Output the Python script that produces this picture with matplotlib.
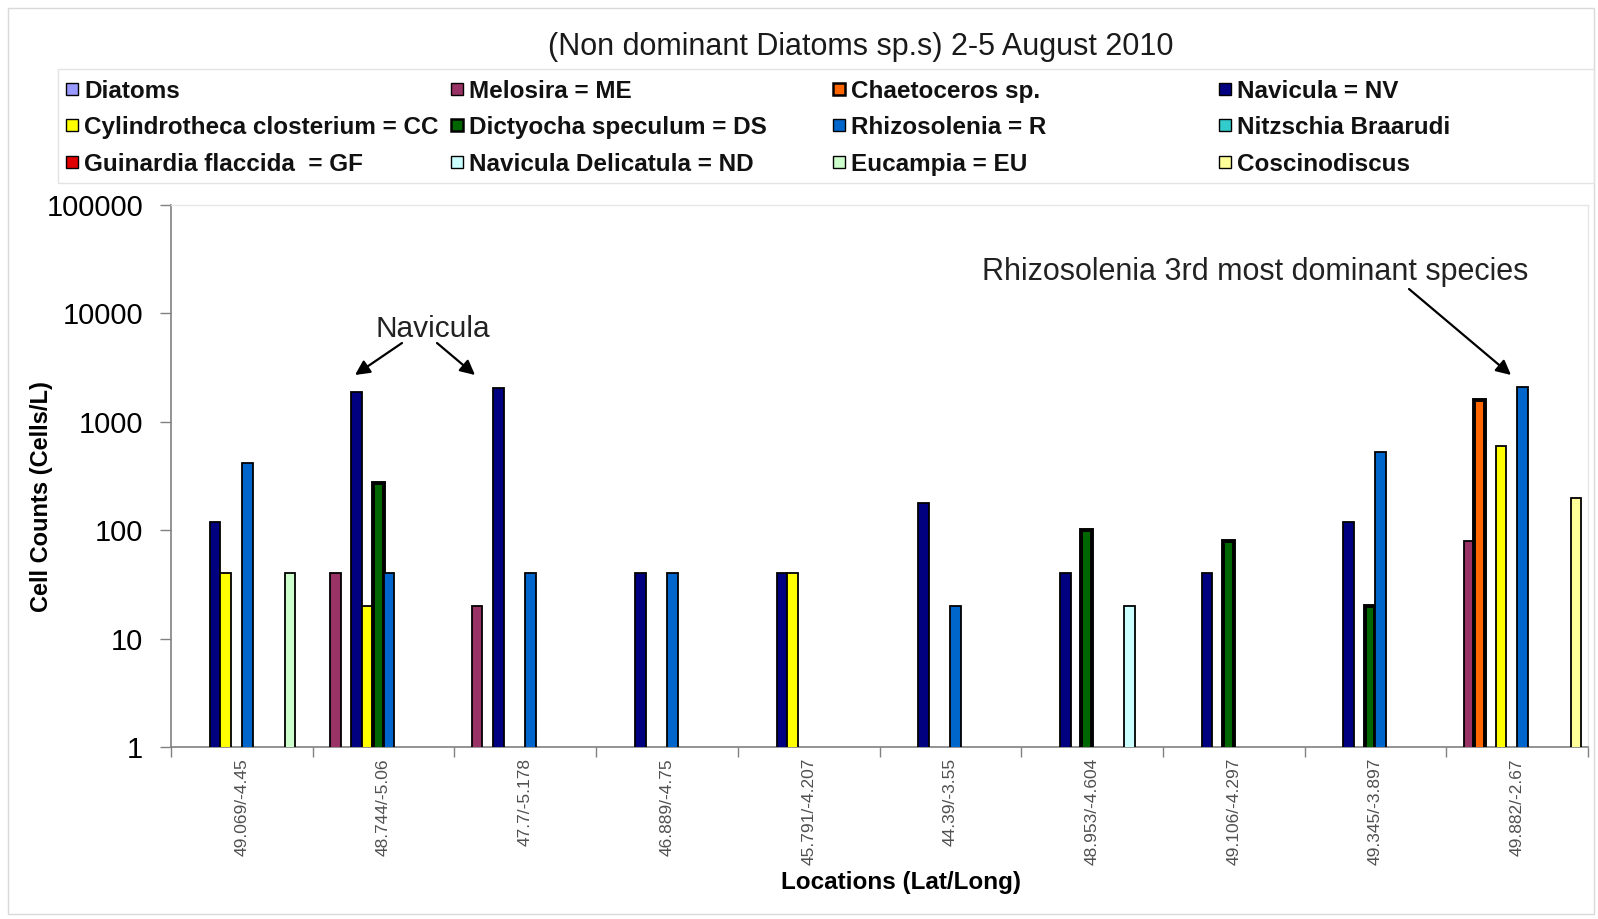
import numpy as np
import matplotlib
matplotlib.use('Agg')
import matplotlib.pyplot as plt
from matplotlib.patches import Rectangle

# ---------------- data ----------------
locations = ['49.069/-4.45', '48.744/-5.06', '47.7/-5.178', '46.889/-4.75', '45.791/-4.207',
             '44.39/-3.55', '48.953/-4.604', '49.106/-4.297', '49.345/-3.897', '49.882/-2.67']

series_names = ['Diatoms', 'Melosira = ME', 'Chaetoceros sp.', 'Navicula = NV',
                'Cylindrotheca closterium = CC', 'Dictyocha speculum = DS', 'Rhizosolenia = R',
                'Nitzschia Braarudi',
                'Guinardia flaccida  = GF', 'Navicula Delicatula = ND', 'Eucampia = EU', 'Coscinodiscus']

N = np.nan
diatoms       = [N, N, N, N, N, N, N, N, N, N]
melosira      = [N, 40, 20, N, N, N, N, N, N, 80]
chaetoceros   = [N, N, N, N, N, N, N, N, N, 1600]
navicula      = [120, 1900, 2040, 40, 40, 180, 40, 40, 120, N]
cylindrotheca = [40, 20, N, N, 40, N, N, N, N, 600]
dictyocha     = [N, 270, N, N, N, N, 100, 80, 20, N]
rhizosolenia  = [420, 40, 40, 40, N, 20, N, N, 530, 2100]
nitzschia     = [N, N, N, N, N, N, N, N, N, N]
guinardia     = [N, N, N, N, N, N, N, N, N, N]
nav_delicat   = [N, N, N, N, N, N, 20, N, N, N]
eucampia      = [40, N, N, N, N, N, N, N, N, N]
coscinodiscus = [N, N, N, N, N, N, N, N, N, 200]

yticks = [1, 10, 100, 1000, 10000, 100000]
ytick_labels = ['1', '10', '100', '1000', '10000', '100000']

series_values = [diatoms, melosira, chaetoceros, navicula, cylindrotheca, dictyocha,
                 rhizosolenia, nitzschia, guinardia, nav_delicat, eucampia, coscinodiscus]
colors = ['#9999FF', '#993366', '#FF6600', '#000080', '#FFFF00', '#006600',
          '#0066CC', '#33CCCC', '#E00000', '#CCFFFF', '#CCFFCC', '#FFFF99']
edge_w = [1.3, 1.3, 2.8, 1.3, 1.3, 2.8, 1.3, 1.3, 1.3, 1.3, 1.3, 1.3]

# ---------------- figure ----------------
W, H = 1598, 919
plt.rcParams['font.family'] = ['Liberation Sans', 'DejaVu Sans']
fig = plt.figure(figsize=(W / 100, H / 100), dpi=100)
fig.patch.set_facecolor('white')

def fx(px):
    return px / W

def fy(py):
    return 1 - py / H

ax = fig.add_axes([fx(171), fy(747), fx(1588) - fx(171), fy(205) - fy(747)])

n_series = len(series_values)
x = np.arange(len(locations))
bw = 0.0755
for k, (vals, col, lw) in enumerate(zip(series_values, colors, edge_w)):
    ax.bar(x + (k - (n_series - 1) / 2) * bw, np.array(vals, dtype=float), width=bw,
           color=col, edgecolor='black', linewidth=lw, zorder=3)

ax.set_yscale('log')
ax.set_ylim(1, 100000)
ax.set_xlim(-0.5, len(locations) - 0.5)
ax.set_yticks(yticks)
ax.set_yticklabels(ytick_labels)
ax.yaxis.set_minor_locator(matplotlib.ticker.NullLocator())
ax.tick_params(axis='y', which='major', length=8, width=1.0, color='#808080',
               labelsize=21, pad=12, direction='out')

ax.set_xticks(np.arange(-0.5, len(locations), 1.0))
ax.set_xticklabels([])
ax.set_xticks(x, minor=True)
ax.set_xticklabels(locations, minor=True, rotation=90, fontsize=12.5, color='#505050')
ax.tick_params(axis='x', which='major', length=7, width=1.0, color='#808080', direction='out')
ax.tick_params(axis='x', which='minor', length=0, pad=8)
for lab in ax.get_xticklabels(minor=True):
    lab.set_verticalalignment('top')

for s in ['left', 'bottom']:
    ax.spines[s].set_color('#808080')
    ax.spines[s].set_linewidth(1.2)
for s in ['top', 'right']:
    ax.spines[s].set_color('#e6e6e6')
    ax.spines[s].set_linewidth(1.0)

ax.set_ylabel('Cell Counts (Cells/L)', fontsize=17, fontweight='bold')
ax.yaxis.set_label_coords(fx(53), fy(497), transform=fig.transFigure)
ax.set_xlabel('Locations (Lat/Long)', fontsize=17.5, fontweight='bold')
ax.xaxis.set_label_coords(fx(901), fy(882), transform=fig.transFigure)
ax.xaxis.label.set_verticalalignment('center')

# title
fig.text(fx(861), fy(47), '(Non dominant Diatoms sp.s) 2-5 August 2010',
         ha='center', va='center', fontsize=22, color='#1a1a1a')

# outer chart frame
fig.patches.append(Rectangle((fx(8), fy(914)), fx(1594) - fx(8), fy(8) - fy(914),
                             transform=fig.transFigure, fill=False, edgecolor='#d9d9d9', lw=1.0))

# legend box
fig.patches.append(Rectangle((fx(58), fy(183)), fx(1594) - fx(58), fy(69) - fy(183),
                             transform=fig.transFigure, fill=False, edgecolor='#e3e3e3', lw=1.0))
col_x = [66, 451, 833, 1219]
row_y = [88.7, 125.3, 162.0]
msz = 12
for i, (name, col) in enumerate(zip(series_names, colors)):
    r, c = divmod(i, 4)
    mx, my = col_x[c], row_y[r]
    fig.patches.append(Rectangle((fx(mx), fy(my + msz / 2)), fx(msz), msz / H,
                                 transform=fig.transFigure, facecolor=col,
                                 edgecolor='black', lw=1.8 if edge_w[i] > 2 else 1.0))
    fig.text(fx(mx + 18), fy(my), name, ha='left', va='center_baseline',
             fontsize=17.5, fontweight='bold', color='#111111')

# annotations
arrow_kw = dict(arrowstyle='-|>', mutation_scale=22, lw=1.6, color='black',
                shrinkA=0, shrinkB=0)
fig.text(fx(433), fy(329), 'Navicula', ha='center', va='center', fontsize=21.5, color='#222222')
ax.annotate('', xy=(355, H - 375), xycoords='figure pixels',
            xytext=(402, H - 343), textcoords='figure pixels', arrowprops=arrow_kw)
ax.annotate('', xy=(475, H - 375), xycoords='figure pixels',
            xytext=(437, H - 343), textcoords='figure pixels', arrowprops=arrow_kw)

fig.text(fx(1255), fy(272), 'Rhizosolenia 3rd most dominant species', ha='center', va='center',
         fontsize=22, color='#222222')
ax.annotate('', xy=(1511, H - 375), xycoords='figure pixels',
            xytext=(1409, H - 289), textcoords='figure pixels', arrowprops=arrow_kw)

fig.savefig('out.png', dpi=100, facecolor='white')
